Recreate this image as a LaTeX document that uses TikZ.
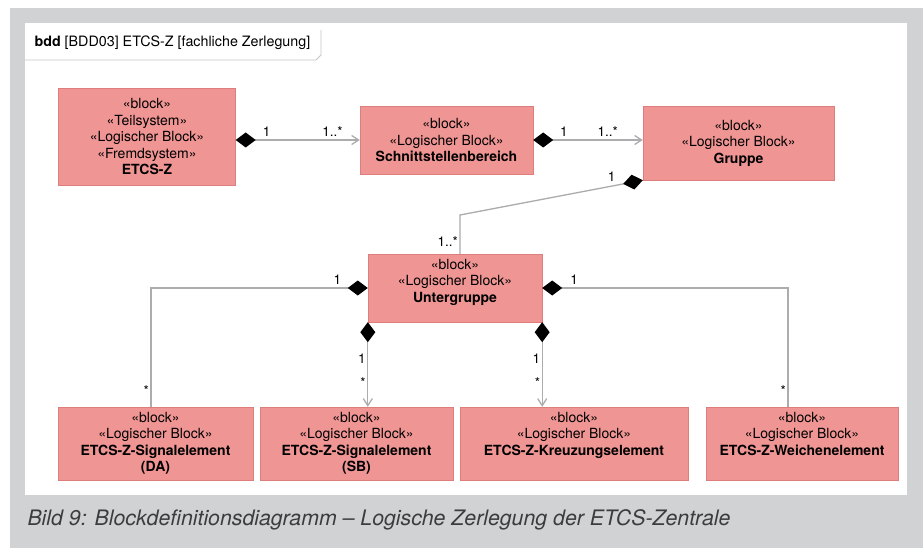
\documentclass[tikz,border=0pt]{standalone}
\usepackage{fontspec}
\setmainfont{TeX Gyre Heros}
\usetikzlibrary{positioning,arrows.meta}
\definecolor{blockred}{RGB}{239,149,147}
\definecolor{blockedge}{RGB}{222,126,124}
\definecolor{linegray}{RGB}{172,172,174}
\definecolor{pagegray}{RGB}{209,210,212}
\definecolor{captiongray}{RGB}{60,60,62}
\tikzset{
  block/.style={align=center,rectangle,draw=blockedge,fill=blockred,inner sep=0pt,
    font=\fontsize{14}{16.5}\selectfont},
  composition/.style={draw=linegray,line width=1.3pt,
    {Diamond[length=20pt,width=15pt,color=black,fill=black]}-},
  compnav/.style={composition,
    {Diamond[length=20pt,width=15pt,color=black,fill=black]}-{Straight Barb[length=7pt,width=9pt]}},
  mult/.style={font=\fontsize{13.5}{15}\selectfont,inner sep=1.5pt}
}

\begin{document}
\begin{tikzpicture}[x=1pt,y=-1pt]
    \useasboundingbox (0,0) rectangle (923,548);
    \fill[pagegray] (10,8) rectangle (923,548);
    \fill[white] (25,23) rectangle (907,495);

    % frame tab
    \draw[linegray!70,line width=0.8pt] (25,60) -- (316,60) -- (321,55) -- (321,30);
    \node[anchor=west,font=\fontsize{14.3}{16}\selectfont] (title) at (31,43)
        {\textbf{bdd} [BDD03] ETCS-Z [fachliche Zerlegung]};

    \node at (147,136.5) [block,minimum width=177,minimum height=97] (etcs)
        {«block»\\«Teilsystem»\\«Logischer Block»\\«Fremdsystem»\\\textbf{ETCS-Z}};
    \node at (446.5,140) [block,minimum width=173,minimum height=68] (schnitt)
        {«block»\\«Logischer Block»\\\textbf{Schnittstellenbereich}};
    \node at (738.5,143) [block,minimum width=191,minimum height=74] (gruppe)
        {«block»\\«Logischer Block»\\\textbf{Gruppe}};
    \node at (455,288) [block,minimum width=174,minimum height=68,text depth=14.5pt] (unter)
        {«block»\\«Logischer Block»\\\textbf{Untergruppe}};

    \node at (155.5,443.5) [block,minimum width=195,minimum height=73] (da)
        {«block»\\«Logischer Block»\\\textbf{ETCS-Z-Signalelement}\\\textbf{(DA)}};
    \node at (356.5,443.5) [block,minimum width=193,minimum height=73] (sb)
        {«block»\\«Logischer Block»\\\textbf{ETCS-Z-Signalelement}\\\textbf{(SB)}};
    \node at (574,443.5) [block,minimum width=228,minimum height=73,text depth=19.5pt] (kreuz)
        {«block»\\«Logischer Block»\\\textbf{ETCS-Z-Kreuzungselement}};
    \node at (802,443.5) [block,minimum width=192,minimum height=73,text depth=19.5pt] (weiche)
        {«block»\\«Logischer Block»\\\textbf{ETCS-Z-Weichenelement}};

    \coordinate (knick) at (460,215);

    \draw[compnav] (etcs.east |- schnitt.west) --
        node[mult,pos=0.25,above=1pt] {1} node[mult,pos=0.78,above=1pt] {1..*} (schnitt.west);
    \draw[compnav] (schnitt.east) --
        node[mult,pos=0.28,above=1pt] {1} node[mult,pos=0.68,above=1pt] {1..*} (gruppe.west |- schnitt.east);
    \draw[composition] (gruppe.south west) -- node[mult,pos=0.17,above=2pt] {1} (knick)
        -- node[mult,pos=0.68,left] {1..*} (knick |- unter.north);

    \draw[composition] (unter.west) -| node[mult,pos=0.07,above=1pt] {1}
        node[mult,pos=0.93,left] {*} ([xshift=-4.5pt]da.north);
    \draw[compnav] (unter.south west) --
        node[mult,pos=0.43,left] {1} node[mult,pos=0.71,left] {*} (unter.south west |- sb.north);
    \draw[compnav] (unter.south east) --
        node[mult,pos=0.43,left] {1} node[mult,pos=0.71,left] {*} (unter.south east |- kreuz.north);
    \draw[composition] (unter.east) -| node[mult,pos=0.065,above=1pt] {1}
        node[mult,pos=0.93,left] {*} ([xshift=-14pt]weiche.north);

    \node[anchor=west,text=captiongray,font=\fontsize{21.3}{24}\selectfont\itshape] (caption) at (24,520)
        {Bild 9: Blockdefinitionsdiagramm – Logische Zerlegung der ETCS-Zentrale};
\end{tikzpicture}
\end{document}
